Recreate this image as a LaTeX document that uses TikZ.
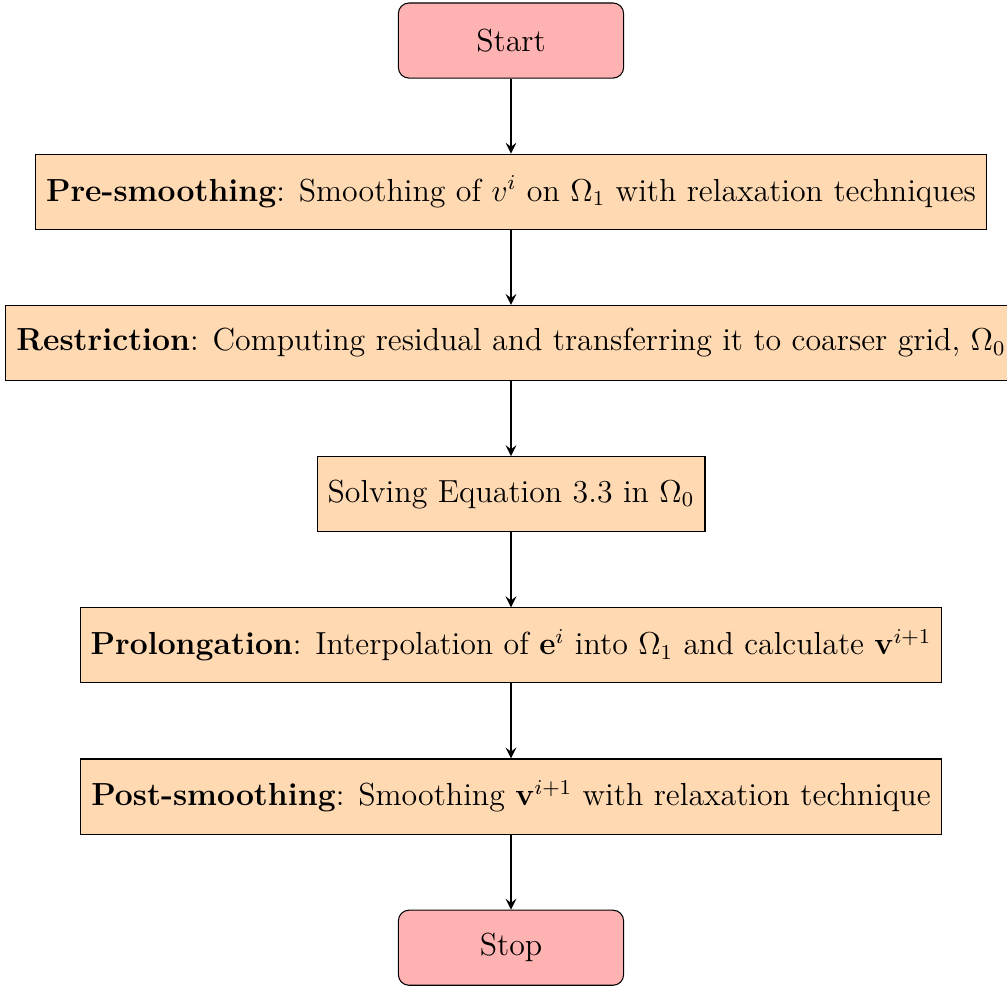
\documentclass[12pt,tikz,border=0pt]{standalone}
\usetikzlibrary{positioning,arrows}
\begin{document}
\begin{tikzpicture}[
  font=\fontsize{12.09pt}{14.5pt}\selectfont,
  startstop/.style={rectangle, rounded corners, minimum width=3cm, minimum height=1cm, text centered, draw=black, fill=red!30},
  process/.style={rectangle, minimum width=3cm, minimum height=1cm, text centered, draw=black, fill=orange!30},
  arrow/.style={thick,->,>=stealth},
  node distance=1cm
]
\useasboundingbox (-6.807,0.54) rectangle (6.607,-12.594);
\node (start) [startstop] {Start};
\node (pre) [process, below=of start] {\textbf{Pre-smoothing}: Smoothing of $v^i$ on $\Omega_1$ with relaxation techniques};
\node (restr) [process, below=of pre] {\textbf{Restriction}: Computing residual and transferring it to coarser grid, $\Omega_0$};
\node (solve) [process, below=of restr] {Solving Equation 3.3 in $\Omega_0$};
\node (prol) [process, below=of solve] {\textbf{Prolongation}: Interpolation of $\mathbf{e}^i$ into $\Omega_1$ and calculate $\mathbf{v}^{i+1}$};
\node (post) [process, below=of prol] {\textbf{Post-smoothing}: Smoothing $\mathbf{v}^{i+1}$ with relaxation technique};
\node (stop) [startstop, below=of post] {Stop};
\draw [arrow] (start) -- (pre);
\draw [arrow] (pre) -- (restr);
\draw [arrow] (restr) -- (solve);
\draw [arrow] (solve) -- (prol);
\draw [arrow] (prol) -- (post);
\draw [arrow] (post) -- (stop);
\end{tikzpicture}
\end{document}
